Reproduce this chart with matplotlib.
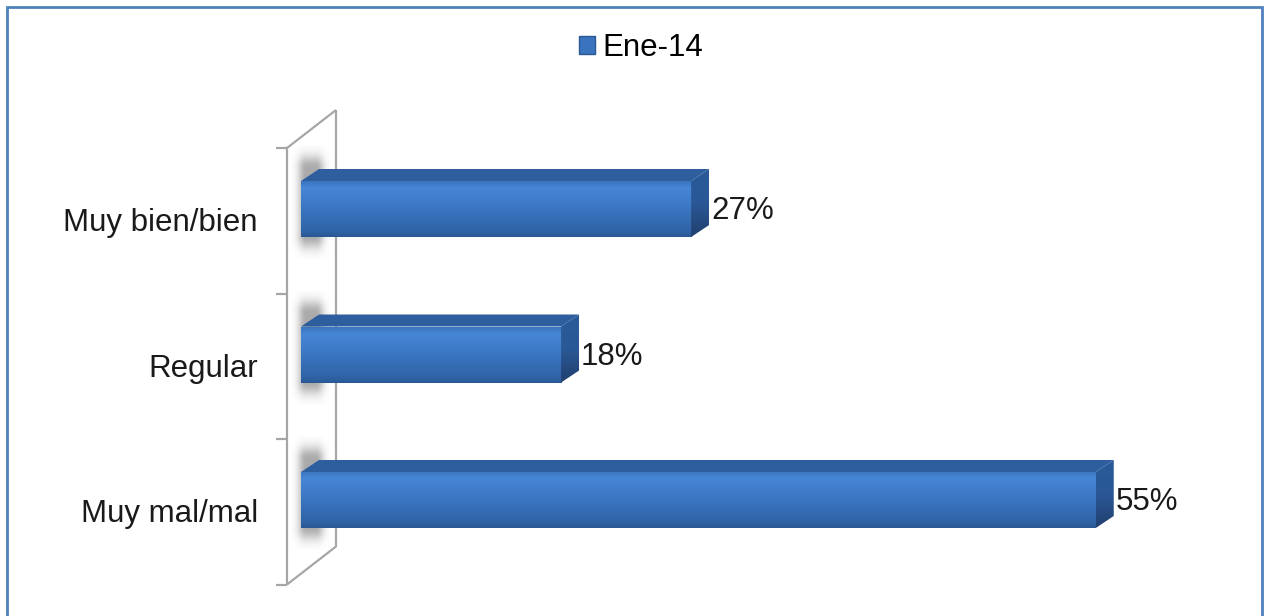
import matplotlib.pyplot as plt
import numpy as np
from matplotlib.patches import Polygon, Rectangle, Patch
from matplotlib.colors import LinearSegmentedColormap

plt.rcParams["font.family"] = ["Liberation Sans", "DejaVu Sans"]

# chart data
categories = ["Muy bien/bien", "Regular", "Muy mal/mal"]
values = [27, 18, 55]
value_labels = ["27%", "18%", "55%"]
series_name = "Ene-14"

W, H = 1267, 616
fig = plt.figure(figsize=(W / 100, H / 100), dpi=100)
ax = fig.add_axes([0, 0, 1, 1])

# pixel layout -> data units
px_per_pct = 14.45
x0_px = 301
row_px = 145.5
y0_px = 209
ax.set_xlim(-x0_px / px_per_pct, (W - x0_px) / px_per_pct)
ax.set_ylim((H - y0_px) / row_px, -y0_px / row_px)
ax.axis("off")

def px_x(n):
    return n / px_per_pct

def px_y(n):
    return n / row_px

bar_h = px_y(56)
dx, dy = px_x(18), px_y(12)
fs = 22.5

front_cmap = LinearSegmentedColormap.from_list(
    "front", [(0.0, "#3A74BE"), (0.12, "#4687D6"), (0.45, "#3C78C4"),
              (0.9, "#2F63A6"), (1.0, "#2A5893")])
side_cmap = LinearSegmentedColormap.from_list(
    "side", [(0.0, "#2A5A98"), (0.5, "#2A5896"), (1.0, "#213F6E")])

# 3D side wall
n = len(categories)
wall_front_x = px_x(287 - x0_px)
wall_back_x = px_x(336 - x0_px)
wall_top = px_y(148 - y0_px)
wall_bot = wall_top + n
wall_shift = px_y(38)
wall_kw = dict(color="#A6A6A6", lw=1.6, zorder=1, solid_capstyle="butt")
ax.plot([wall_front_x, wall_front_x], [wall_top, wall_bot], **wall_kw)
ax.plot([wall_back_x, wall_back_x], [wall_top - wall_shift, wall_bot - wall_shift], **wall_kw)
ax.plot([wall_front_x, wall_back_x], [wall_top, wall_top - wall_shift], **wall_kw)
ax.plot([wall_front_x, wall_back_x], [wall_bot, wall_bot - wall_shift], **wall_kw)
for k in range(n + 1):
    ax.plot([wall_front_x - px_x(11), wall_front_x], [wall_top + k, wall_top + k], **wall_kw)

# soft shadow cast on the wall behind each bar
sx = np.linspace(-1, 1, 80)
sy = np.linspace(-1, 1, 160)
gx = np.exp(-(np.maximum(np.abs(sx) - 0.25, 0) / 0.4) ** 2)
gy = np.exp(-(np.maximum(np.abs(sy) - 0.6, 0) / 0.22) ** 2)
shadow = np.zeros((len(sy), len(sx), 4))
shadow[..., :3] = 0.45
shadow[..., 3] = 0.6 * np.outer(gy, gx)

grad = np.linspace(0, 1, 256).reshape(-1, 1)

for i, (v, lab) in enumerate(zip(values, value_labels)):
    top = i - bar_h / 2
    bot = i + bar_h / 2

    ax.imshow(shadow, extent=[px_x(-10), px_x(30), i + px_y(50), i - px_y(64)],
              aspect="auto", interpolation="bilinear", zorder=2)

    # front face with vertical gradient
    clip = Rectangle((0, top), v, bar_h, transform=ax.transData)
    im = ax.imshow(grad, cmap=front_cmap, extent=[0, v, bot, top],
                   aspect="auto", zorder=3)
    im.set_clip_path(clip)

    # top face
    ax.add_patch(Polygon([(0, top), (v, top), (v + dx, top - dy), (dx, top - dy)],
                         closed=True, facecolor="#2E5E9E", edgecolor="none", zorder=3))
    # side face
    side_clip = Polygon([(v, top), (v + dx, top - dy), (v + dx, bot - dy), (v, bot)],
                        closed=True, transform=ax.transData)
    sim = ax.imshow(grad, cmap=side_cmap, extent=[v, v + dx, bot, top - dy],
                    aspect="auto", zorder=3)
    sim.set_clip_path(side_clip)

    ax.text(v + dx + px_x(2), i + px_y(2), lab, fontsize=fs, va="center",
            ha="left", color="#1A1A1A", zorder=4)

# category labels
for i, cat in enumerate(categories):
    ax.text(px_x(258 - x0_px), i + px_y(14), cat, fontsize=fs, va="center",
            ha="right", color="#1A1A1A")

# legend
handle = Patch(facecolor="#3A74BE", edgecolor="#2A5893", label=series_name)
fig.legend(handles=[handle], loc="center", bbox_to_anchor=(641 / W, 1 - 48 / H),
           frameon=False, fontsize=fs, handlelength=0.5, handleheight=0.5,
           handletextpad=0.25, borderpad=0)

# outer border
fig.patches.append(Rectangle((7 / W, -0.01), (1262 - 7) / W, 1.01 - 7 / H,
                             transform=fig.transFigure, fill=False,
                             edgecolor="#4F81BD", lw=2))

fig.savefig("out.png", dpi=100)
